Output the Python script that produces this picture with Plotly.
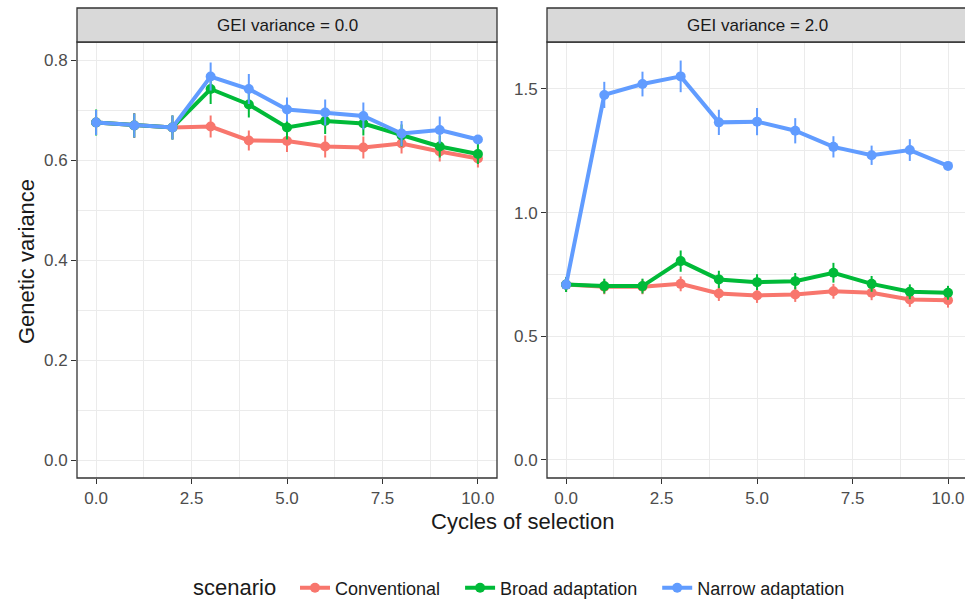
import plotly.graph_objects as go

cycles = [0, 1, 2, 3, 4, 5, 6, 7, 8, 9, 10]
scenarios = ["Conventional", "Broad adaptation", "Narrow adaptation"]
colors = ["#F8766D", "#00BA38", "#619CFF"]

# GEI variance = 0.0
gei0_conv = [0.675, 0.669, 0.665, 0.667, 0.639, 0.638, 0.627, 0.625, 0.633, 0.617, 0.603]
gei0_conv_se = [0.025, 0.025, 0.024, 0.022, 0.020, 0.022, 0.022, 0.022, 0.020, 0.020, 0.018]
gei0_broad = [0.675, 0.669, 0.665, 0.742, 0.711, 0.665, 0.678, 0.673, 0.649, 0.627, 0.612]
gei0_broad_se = [0.026, 0.024, 0.024, 0.030, 0.026, 0.024, 0.026, 0.024, 0.022, 0.022, 0.020]
gei0_narrow = [0.675, 0.669, 0.665, 0.767, 0.742, 0.701, 0.695, 0.688, 0.653, 0.660, 0.641]
gei0_narrow_se = [0.025, 0.024, 0.024, 0.028, 0.030, 0.024, 0.026, 0.027, 0.025, 0.027, 0.003]

# GEI variance = 2.0
gei2_conv = [0.709, 0.700, 0.700, 0.712, 0.673, 0.665, 0.669, 0.682, 0.676, 0.649, 0.646]
gei2_conv_se = [0.030, 0.030, 0.030, 0.030, 0.030, 0.030, 0.030, 0.030, 0.030, 0.030, 0.030]
gei2_broad = [0.709, 0.703, 0.703, 0.804, 0.730, 0.719, 0.723, 0.757, 0.712, 0.680, 0.676]
gei2_broad_se = [0.030, 0.030, 0.030, 0.043, 0.035, 0.032, 0.033, 0.040, 0.032, 0.030, 0.028]
gei2_narrow = [0.709, 1.476, 1.520, 1.551, 1.365, 1.368, 1.331, 1.266, 1.232, 1.253, 1.189]
gei2_narrow_se = [0.006, 0.053, 0.050, 0.064, 0.051, 0.055, 0.051, 0.043, 0.039, 0.044, 0.005]

panels = [
    ("x", "y", [gei0_conv, gei0_broad, gei0_narrow], [gei0_conv_se, gei0_broad_se, gei0_narrow_se]),
    ("x2", "y2", [gei2_conv, gei2_broad, gei2_narrow], [gei2_conv_se, gei2_broad_se, gei2_narrow_se]),
]

PAD = "\u00a0\u00a0\u00a0"

fig = go.Figure()
for pi, (xa, ya, vals, ses) in enumerate(panels):
    for si, name in enumerate(scenarios):
        fig.add_trace(go.Scatter(
            x=cycles, y=vals[si], xaxis=xa, yaxis=ya,
            mode="lines+markers", name=name + PAD, legendgroup=name,
            showlegend=(pi == 0),
            line=dict(color=colors[si], width=4),
            marker=dict(color=colors[si], size=10),
            error_y=dict(type="data", array=ses[si], visible=True,
                         thickness=2, width=0, color=colors[si]),
        ))

FONT = "Liberation Sans, Arial, sans-serif"
grid = "#EBEBEB"
tickfont = dict(family=FONT, size=17, color="#4D4D4D")
H = 599.0
W = 965.0

xl = [77 / W, 497 / W]
xr = [547 / W, 1.0]
yd = [(H - 478) / H, (H - 42) / H]
strip_top = (H - 8) / H

def xaxis(domain, anchor, rng):
    return dict(domain=domain, anchor=anchor, range=rng, tickvals=[0, 2.5, 5, 7.5, 10],
                tickformat=".1f", showgrid=True, gridcolor=grid, gridwidth=1.3,
                minor=dict(tickvals=[1.25, 3.75, 6.25, 8.75], showgrid=True,
                           gridcolor=grid, gridwidth=0.7),
                ticks="outside", ticklen=5, tickcolor="#333333", tickwidth=1.2,
                tickfont=tickfont, zeroline=False, showline=False, automargin=False)

def yaxis(anchor, rng, tv, mv):
    return dict(domain=yd, anchor=anchor, range=rng, tickvals=tv, tickformat=".1f",
                showgrid=True, gridcolor=grid, gridwidth=1.3,
                minor=dict(tickvals=mv, showgrid=True, gridcolor=grid, gridwidth=0.7),
                ticks="outside", ticklen=5, tickcolor="#333333", tickwidth=1.2,
                tickfont=tickfont, zeroline=False, showline=False, automargin=False)

fig.update_layout(
    width=965, height=599,
    margin=dict(l=0, r=0, t=0, b=0, autoexpand=False),
    paper_bgcolor="white", plot_bgcolor="white",
    font=dict(family=FONT, color="#1A1A1A"),
    xaxis=xaxis(xl, "y", [-0.5, 10.5]),
    xaxis2=xaxis(xr, "y2", [-0.5, 10.445]),
    yaxis=yaxis("x", [-0.036, 0.836], [0, 0.2, 0.4, 0.6, 0.8], [0.1, 0.3, 0.5, 0.7]),
    yaxis2=yaxis("x2", [-0.073, 1.69], [0, 0.5, 1.0, 1.5], [0.25, 0.75, 1.25]),
    legend=dict(orientation="h", x=295 / W, xanchor="left", y=(H - 588) / H, yanchor="middle",
                font=dict(size=18, family=FONT, color="#1A1A1A"),
                bgcolor="rgba(0,0,0,0)"),
    shapes=[
        dict(type="rect", xref="paper", yref="paper", x0=xl[0], x1=xl[1], y0=yd[0], y1=yd[1],
             line=dict(color="#333333", width=1.3), fillcolor="rgba(0,0,0,0)", layer="above"),
        dict(type="rect", xref="paper", yref="paper", x0=xr[0], x1=1.01, y0=yd[0], y1=yd[1],
             line=dict(color="#333333", width=1.3), fillcolor="rgba(0,0,0,0)", layer="above"),
        dict(type="rect", xref="paper", yref="paper", x0=xl[0], x1=xl[1], y0=yd[1], y1=strip_top,
             line=dict(color="#333333", width=1.3), fillcolor="#D9D9D9", layer="above"),
        dict(type="rect", xref="paper", yref="paper", x0=xr[0], x1=1.01, y0=yd[1], y1=strip_top,
             line=dict(color="#333333", width=1.3), fillcolor="#D9D9D9", layer="above"),
    ],
    annotations=[
        dict(text="GEI variance = 0.0", xref="paper", yref="paper", x=(xl[0] + xl[1]) / 2,
             y=(yd[1] + strip_top) / 2, showarrow=False, xanchor="center", yanchor="middle",
             font=dict(size=17, family=FONT, color="#1A1A1A")),
        dict(text="GEI variance = 2.0", xref="paper", yref="paper", x=757 / W,
             y=(yd[1] + strip_top) / 2, showarrow=False, xanchor="center", yanchor="middle",
             font=dict(size=17, family=FONT, color="#1A1A1A")),
        dict(text="Cycles of selection", xref="paper", yref="paper", x=522 / W,
             y=(H - 521) / H, showarrow=False, xanchor="center", yanchor="middle",
             font=dict(size=22, family=FONT, color="#1A1A1A")),
        dict(text="Genetic variance", xref="paper", yref="paper", x=26 / W,
             y=(H - 262) / H, showarrow=False, xanchor="center", yanchor="middle",
             textangle=-90, font=dict(size=22, family=FONT, color="#1A1A1A")),
        dict(text="scenario", xref="paper", yref="paper", x=191 / W,
             y=(H - 587) / H, showarrow=False, xanchor="left", yanchor="middle",
             font=dict(size=22, family=FONT, color="#1A1A1A")),
    ],
)

fig.write_html("out.html")
